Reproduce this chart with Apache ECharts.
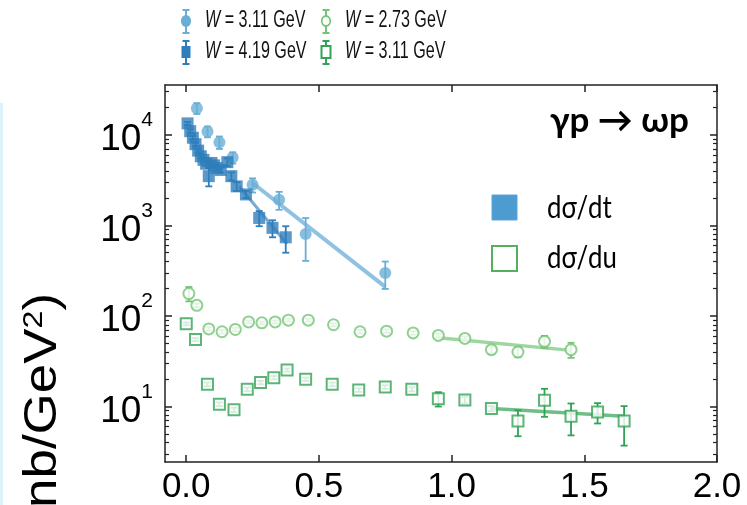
<!DOCTYPE html>
<html>
<head>
<meta charset="utf-8">
<script src="https://cdn.jsdelivr.net/npm/echarts@6/dist/echarts.min.js"></script>
<style>
  html, body { margin: 0; padding: 0; background: #fff; }
  #chart { width: 747px; height: 505px; }
</style>
</head>
<body>
<div id="chart"></div>
<script>
// dσ/dt at W = 3.11 GeV (filled circles)
const tW311 = [0.04, 0.08, 0.125, 0.175, 0.25, 0.35, 0.45, 0.75];
const dsdtW311 = [19700, 10900, 8300, 5620, 2810, 1920, 806, 299];
const errDsdtW311 = [2700, 1500, 1300, 800, 500, 430, 400, 100];

// dσ/dt at W = 4.19 GeV (filled squares)
const tW419 = [0.005, 0.015, 0.025, 0.035, 0.045, 0.055, 0.065, 0.075, 0.085, 0.095,
               0.105, 0.115, 0.13, 0.155, 0.17, 0.19, 0.225, 0.275, 0.325, 0.375];
const dsdtW419 = [13400, 11000, 9300, 7900, 6700, 5800, 5300, 4800, 3500, 4900,
                  4600, 4300, 4100, 5000, 3500, 2700, 2200, 1210, 940, 740];
const errDsdtW419 = [500, 450, 400, 350, 300, 280, 260, 250, 800, 250,
                     250, 250, 250, 500, 350, 300, 200, 230, 200, 240];

// dσ/du at W = 2.73 GeV (open circles)
const uW273 = [0.01, 0.04, 0.085, 0.135, 0.185, 0.235, 0.285, 0.335, 0.385, 0.46,
               0.555, 0.655, 0.755, 0.855, 0.95, 1.05, 1.15, 1.25, 1.35, 1.45];
const dsduW273 = [177, 131, 72, 67, 71, 86, 84, 86, 90, 90,
                  80, 67, 68, 65, 61, 56.5, 42.5, 40, 52.4, 42.5];
const errDsduW273 = [32, 6, 3, 3, 3, 3, 3, 3, 3, 3,
                     3, 3, 3, 3, 3, 3, 4, 5, 8, 8];

// dσ/du at W = 3.11 GeV (open squares)
const uW311 = [0.0, 0.035, 0.08, 0.125, 0.18, 0.23, 0.28, 0.33, 0.38, 0.45, 0.55,
               0.65, 0.75, 0.85, 0.95, 1.05, 1.15, 1.25, 1.35, 1.45, 1.55, 1.65];
const dsduW311 = [82, 55, 17.6, 10.6, 9.2, 15.5, 18.4, 20.8, 25.3, 20, 17.6,
                  15.2, 16.4, 15.5, 12.2, 11.8, 9.5, 6.9, 11.7, 7.8, 8.7, 6.9];
const errDsduW311 = [3, 2, 0.8, 0.5, 0.5, 0.7, 0.8, 0.9, 1, 0.9, 0.8,
                     0.7, 0.8, 0.8, 2.2, 1.0, 0.6, 2.2, 4, 3, 2.2, 3.2];

// exponential fits (end points)
const fitTW311 = [[0.25, 2940], [0.75, 210]];
const fitTW419 = [[0.2, 2690], [0.38, 625]];
const fitUW273 = [[0.95, 57.5], [1.45, 41.7]];
const fitUW311 = [[1.15, 9.5], [1.65, 7.8]];

// legend entries
const legendLabels = ['3.11', '2.73', '4.19', '3.11'];

// axis ticks
const xTicks = [0, 0.5, 1.0, 1.5, 2.0];
const yMajor = [10, 100, 1000, 10000];
const yMinor = [];
[1, 10, 100, 1000, 10000].forEach(d => {
  for (let k = 2; k <= 9; k++) yMinor.push(k * d);
});

const C_LB = '#6aaed6';
const C_DB = '#2f7ebc';
const C_LG = '#74c476';
const C_DG = '#31a354';

const Y_MIN = 2.44, Y_MAX = 35560;
const X_MIN = -0.08, X_MAX = 2.0;

const zip = (xs, ys) => xs.map((x, i) => [x, ys[i]]);
const zip3 = (xs, ys, es) => xs.map((x, i) => [x, ys[i], es[i]]);

function errorBars(name, data, color) {
  return {
    type: 'custom',
    name: name,
    xAxisIndex: 0, yAxisIndex: 0,
    data: data,
    z: 3,
    renderItem: function (params, api) {
      const x = api.value(0), y = api.value(1), e = api.value(2);
      const hi = api.coord([x, y + e]);
      const lo = api.coord([x, Math.max(y - e, Y_MIN)]);
      const cw = 3.5;
      const st = { stroke: color, lineWidth: 1.8 };
      return {
        type: 'group',
        children: [
          { type: 'line', shape: { x1: hi[0], y1: hi[1], x2: lo[0], y2: lo[1] }, style: st },
          { type: 'line', shape: { x1: hi[0] - cw, y1: hi[1], x2: hi[0] + cw, y2: hi[1] }, style: st },
          { type: 'line', shape: { x1: lo[0] - cw, y1: lo[1], x2: lo[0] + cw, y2: lo[1] }, style: st }
        ]
      };
    }
  };
}

function fitLine(data, color, width) {
  return {
    type: 'line', data: data, showSymbol: false, z: 1,
    lineStyle: { color: color, width: width },
    silent: true
  };
}

const axisColor = '#222';
const frameLine = { show: true, onZero: false, lineStyle: { color: axisColor, width: 1.5 } };
const noLine = { show: false, onZero: false };

const sup = { fontSize: 21, verticalAlign: 'top', lineHeight: 21, fontFamily: 'Liberation Sans', color: '#000' };

function logAxis(position, ticks, len, withLine, withLabels) {
  const ax = {
    type: 'log', logBase: 10, min: Y_MIN, max: Y_MAX, position: position,
    axisLine: withLine ? frameLine : noLine,
    axisTick: { show: true, inside: true, length: len, customValues: ticks,
                lineStyle: { color: axisColor, width: len > 5 ? 1.5 : 1.2 } },
    axisLabel: { show: false },
    splitLine: { show: false }
  };
  if (withLabels) {
    ax.axisLabel = {
      customValues: ticks,
      formatter: v => '{b|10}{s|' + Math.round(Math.log10(v)) + '}',
      margin: 12,
      padding: [10, 0, 0, 0],
      rich: {
        b: { fontSize: 37, lineHeight: 60, fontFamily: 'Liberation Sans', color: '#000' },
        s: sup
      }
    };
  }
  return ax;
}

// top legend: error-bar glyph + label for each dataset
function legendEntry(cx, cy, color, shape, filled, label) {
  const st = { stroke: color, lineWidth: 2 };
  const markStyle = filled ? { fill: color } : { fill: '#fff', stroke: color, lineWidth: 2 };
  const mark = shape === 'circle'
    ? { type: 'circle', x: cx, y: cy, scaleX: 0.85, shape: { cx: 0, cy: 0, r: filled ? 6 : 5 }, style: markStyle }
    : { type: 'rect', x: cx, y: cy, shape: { x: -4.5, y: -6, width: 9, height: 12 }, style: markStyle };
  return [
    { type: 'line', shape: { x1: cx, y1: cy - 11, x2: cx, y2: cy + 12 }, style: st },
    { type: 'line', shape: { x1: cx - 3.5, y1: cy - 11, x2: cx + 3.5, y2: cy - 11 }, style: st },
    { type: 'line', shape: { x1: cx - 3.5, y1: cy + 12, x2: cx + 3.5, y2: cy + 12 }, style: st },
    mark,
    {
      type: 'text', x: cx + 19, y: cy, scaleX: 0.7,
      style: {
        text: '{i|W} = ' + label + ' GeV', verticalAlign: 'middle', fontSize: 23,
        fontFamily: 'Liberation Sans', fill: '#111',
        rich: { i: { fontStyle: 'italic', fontSize: 23, fontFamily: 'Liberation Sans', fill: '#111' } }
      }
    }
  ];
}

const chart = echarts.init(document.getElementById('chart'), null, { renderer: 'canvas' });
chart.setOption({
  animation: false,
  backgroundColor: '#fff',
  grid: { left: 165, right: 30, top: 85, bottom: 42, containLabel: false },
  xAxis: [
    {
      type: 'value', min: X_MIN, max: X_MAX, position: 'bottom',
      axisLine: frameLine,
      axisTick: { show: true, inside: true, length: 7, customValues: xTicks, lineStyle: { color: axisColor, width: 1.5 } },
      axisLabel: {
        customValues: xTicks, formatter: v => v.toFixed(1),
        fontSize: 35, color: '#000', margin: 8, fontFamily: 'Liberation Sans'
      },
      splitLine: { show: false }
    },
    {
      type: 'value', min: X_MIN, max: X_MAX, position: 'top',
      axisLine: frameLine,
      axisTick: { show: true, inside: true, length: 7, customValues: xTicks, lineStyle: { color: axisColor, width: 1.5 } },
      axisLabel: { show: false },
      splitLine: { show: false }
    }
  ],
  yAxis: [
    logAxis('left', yMajor, 7, true, true),
    logAxis('left', yMinor, 4, false, false),
    logAxis('right', yMajor, 7, true, false),
    logAxis('right', yMinor, 4, false, false)
  ],
  series: [
    fitLine(fitTW311, 'rgba(106,174,214,0.75)', 4),
    fitLine(fitTW419, 'rgba(47,126,188,0.65)', 3),
    fitLine(fitUW273, 'rgba(116,196,118,0.7)', 3.5),
    fitLine(fitUW311, 'rgba(49,163,84,0.7)', 3.5),

    errorBars('W = 3.11 GeV err', zip3(tW311, dsdtW311, errDsdtW311), C_LB),
    errorBars('W = 4.19 GeV err', zip3(tW419, dsdtW419, errDsdtW419), C_DB),
    errorBars('W = 2.73 GeV err', zip3(uW273, dsduW273, errDsduW273), C_LG),
    errorBars('W = 3.11 GeV u err', zip3(uW311, dsduW311, errDsduW311), C_DG),

    {
      type: 'scatter', name: 'W = 3.11 GeV', data: zip(tW311, dsdtW311), z: 4,
      symbol: 'circle', symbolSize: 12, itemStyle: { color: C_LB }
    },
    {
      type: 'scatter', name: 'W = 4.19 GeV', data: zip(tW419, dsdtW419), z: 5,
      symbol: 'rect', symbolSize: 12, itemStyle: { color: C_DB }
    },
    {
      type: 'scatter', name: 'W = 2.73 GeV', data: zip(uW273, dsduW273), z: 4,
      symbol: 'circle', symbolSize: 11, itemStyle: { color: '#fff', borderColor: C_LG, borderWidth: 2 }
    },
    {
      type: 'scatter', name: 'W = 3.11 GeV (u)', data: zip(uW311, dsduW311), z: 4,
      symbol: 'rect', symbolSize: 11, itemStyle: { color: '#fff', borderColor: C_DG, borderWidth: 2 }
    }
  ],
  graphic: [
    // thin pale strip along the left edge
    { type: 'rect', shape: { x: 0, y: 103, width: 3, height: 402 }, style: { fill: '#dcf3fc' }, silent: true },

    // y axis title (runs off the bottom edge)
    {
      type: 'text', x: 43, y: 293, rotation: Math.PI / 2, scaleX: 1.15,
      style: {
        text: 'nb/GeV{s|2})', align: 'right', verticalAlign: 'middle',
        fontSize: 46, fontFamily: 'Liberation Sans', fill: '#000',
        rich: { s: { fontSize: 28, verticalAlign: 'top', lineHeight: 30, fontFamily: 'Liberation Sans', fill: '#000' } }
      }
    },

    // reaction label
    {
      type: 'text', x: 689, y: 121, style: {
        text: 'γp → ωp', align: 'right', verticalAlign: 'middle',
        fontSize: 35, fontWeight: 'bold', fontFamily: 'Lato', fill: '#000'
      }
    },

    // in-plot legend: dσ/dt vs dσ/du
    { type: 'rect', shape: { x: 492, y: 195, width: 25, height: 25 }, style: { fill: '#4d9bd0', stroke: '#5aa5d6', lineWidth: 1 } },
    { type: 'text', x: 547, y: 208, scaleX: 0.86, style: { text: 'dσ/dt', verticalAlign: 'middle', fontSize: 30, fontFamily: 'Lato', fill: '#000' } },
    { type: 'rect', shape: { x: 492, y: 246, width: 25, height: 25 }, style: { fill: '#fff', stroke: '#55b05e', lineWidth: 2 } },
    { type: 'text', x: 547, y: 258, scaleX: 0.86, style: { text: 'dσ/du', verticalAlign: 'middle', fontSize: 30, fontFamily: 'Lato', fill: '#000' } },

    ...legendEntry(186, 21, C_LB, 'circle', true, legendLabels[0]),
    ...legendEntry(326, 21, C_LG, 'circle', false, legendLabels[1]),
    ...legendEntry(186, 52, C_DB, 'rect', true, legendLabels[2]),
    ...legendEntry(326, 52, C_DG, 'rect', false, legendLabels[3])
  ]
});
</script>
</body>
</html>
